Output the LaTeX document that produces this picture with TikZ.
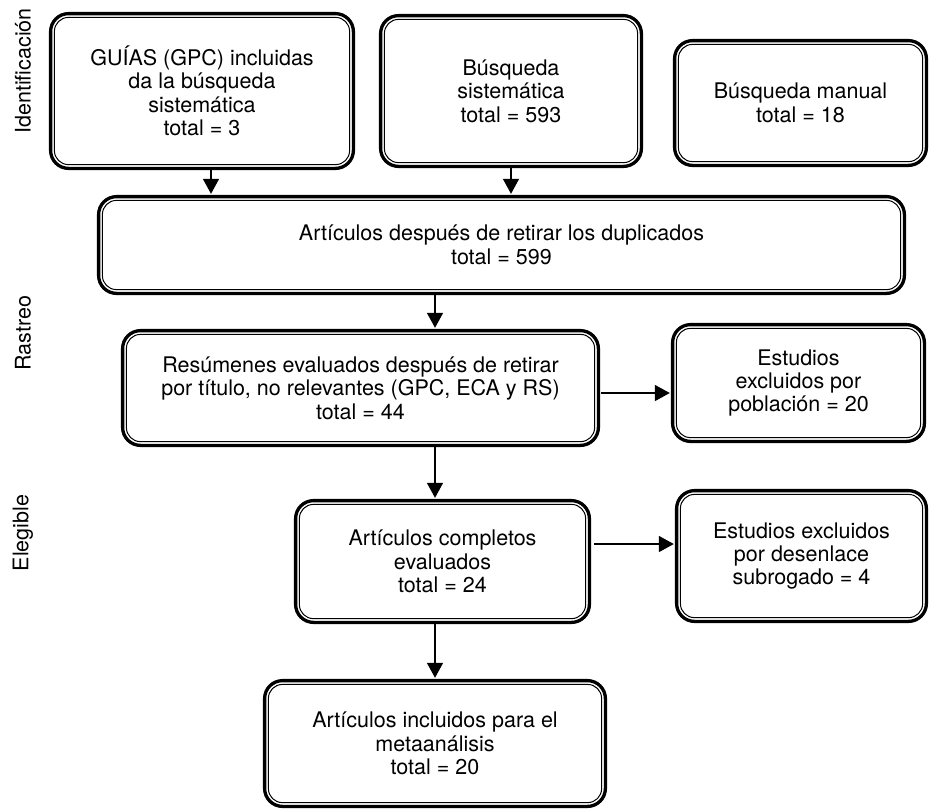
\documentclass[tikz,border=0pt]{standalone}
\usepackage{fontspec}
\setmainfont{TeX Gyre Heros}
\usetikzlibrary{arrows.meta,positioning}

\begin{document}
\begin{tikzpicture}[
    x=0.5pt, y=-0.5pt,
    font={\fontsize{10.75}{11.7}\selectfont},
    box/.style={draw,line width=1.65pt,rounded corners=9pt,align=center,inner sep=0pt,outer sep=0pt},
    inbox/.style={line width=0.5pt,rounded corners=7pt},
    side/.style={rotate=90},
    arr/.style={-{Triangle[width=8pt,length=7.5pt]},line width=0.8pt,shorten >=1.4pt},
]
\useasboundingbox (0,0) rectangle (929,810);

    % Nodes
    \node[box,minimum width=151.4pt,minimum height=77.4pt] (guias)  at (202,91)    {GUÍAS (GPC) incluidas\\da la búsqueda\\sistemática\\total = 3};
    \node[box,minimum width=130.4pt,minimum height=75.4pt] (sist)   at (511,91)    {Búsqueda\\sistemática\\total = 593};
    \node[box,minimum width=125.9pt,minimum height=62.4pt] (manual) at (800.5,103) {Búsqueda manual\\total = 18};
    \node[box,minimum width=402.9pt,minimum height=48.4pt] (dupl)   at (501.5,245) {Artículos después de retirar los duplicados\\total = 599};
    \node[box,minimum width=237.9pt,minimum height=57.4pt] (resum)  at (360.5,388) {Resúmenes evaluados después de retirar\\por título, no relevantes (GPC, ECA y RS)\\total = 44};
    \node[box,minimum width=125.9pt,minimum height=58.4pt] (pobl)   at (798.5,383) {Estudios\\excluidos por\\población = 20};
    \node[box,minimum width=146.9pt,minimum height=60.9pt] (compl)  at (442.5,561.5) {Artículos completos\\evaluados\\total = 24};
    \node[box,minimum width=124.9pt,minimum height=65.4pt] (desen)  at (801.5,556) {Estudios excluidos\\por desenlace\\subrogado = 4};
    \node[box,minimum width=170.4pt,minimum height=62.9pt] (incl)   at (435,743.5) {Artículos incluidos para el\\metaanálisis\\total = 20};

    % Inner lines
    \foreach \n in {guias,sist,manual,dupl,resum,pobl,compl,desen,incl}
        \draw[inbox] ([shift={(1.9pt,1.9pt)}]\n.south west) rectangle ([shift={(-1.9pt,-1.9pt)}]\n.north east);

    % Side labels
    \node[side] (ident) at (23,71)  {Identificación};
    \node[side] (rast)  at (23,333) {Rastreo};
    \node[side] (eleg)  at (23,533) {Elegible};

    % Arrows
    \draw[arr] ([xshift=4.5pt]guias.south) -- ([xshift=4.5pt]guias.south |- dupl.north);
    \draw[arr] (sist.south) -- (sist.south |- dupl.north);
    \draw[arr] (dupl.south -| incl.north) -- (resum.north -| incl.north);
    \draw[arr] (resum.south -| incl.north) -- (compl.north -| incl.north);
    \draw[arr] (compl.south -| incl.north) -- (incl.north);
    \draw[arr] ([xshift=1.5pt,yshift=-2.5pt]resum.east) -- ([yshift=-2.5pt]resum.east -| pobl.west);
    \draw[arr] ([xshift=2.5pt,yshift=8.75pt]compl.east) -- ([yshift=8.75pt]compl.east -| desen.west);

\end{tikzpicture}
\end{document}
